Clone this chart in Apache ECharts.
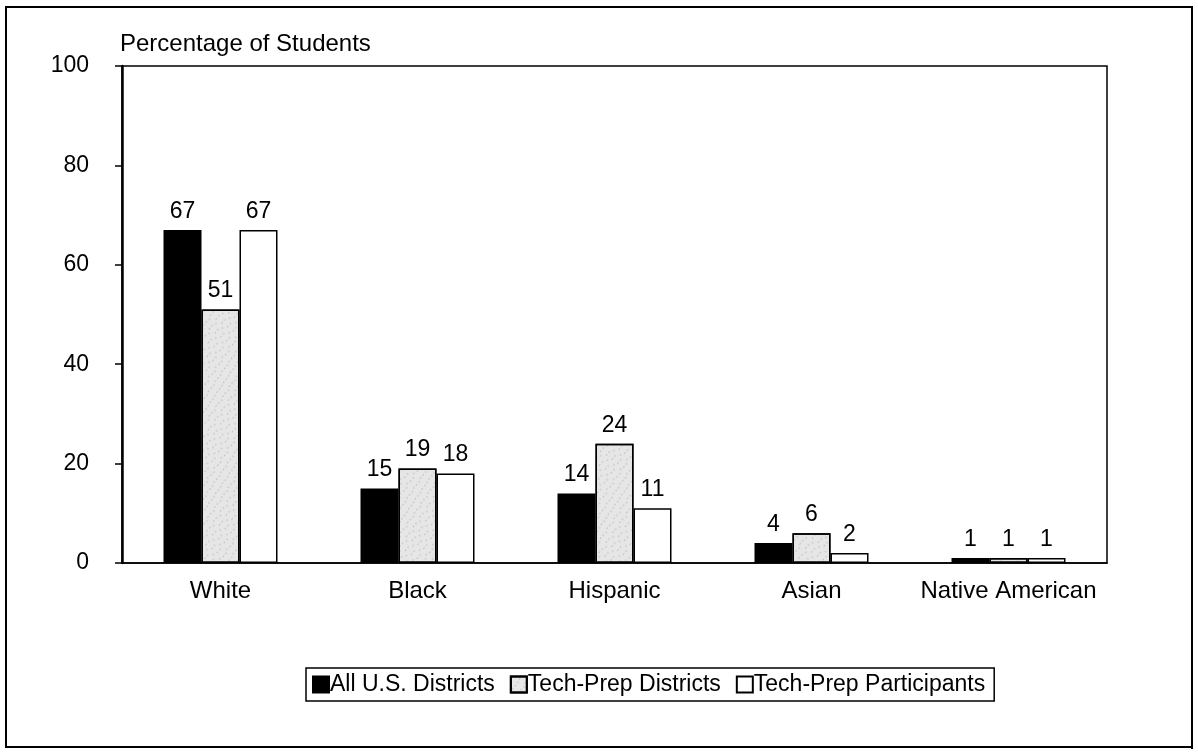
<!DOCTYPE html>
<html>
<head>
<meta charset="utf-8">
<script src="https://cdn.jsdelivr.net/npm/echarts@6/dist/echarts.min.js"></script>
<style>
html, body { margin: 0; padding: 0; background: #fff; }
#chart { width: 1198px; height: 753px; }
</style>
</head>
<body>
<div id="chart"></div>
<script>
var categories = ['White', 'Black', 'Hispanic', 'Asian', 'Native American'];
var allDistricts = [67, 15, 14, 4, 1];
var techPrepDistricts = [51, 19, 24, 6, 1];
var techPrepParticipants = [67, 18, 11, 2, 1];
var yTicks = [0, 20, 40, 60, 80, 100];

var FONT = 'Liberation Sans, Arial, sans-serif';
var FS = 23;

var myChart = echarts.init(document.getElementById('chart'));

var labelStyle = {
	show: true,
	position: 'top',
	distance: 7,
	color: '#000',
	fontSize: FS,
	fontFamily: FONT
};

var option = {
	animation: false,
	backgroundColor: '#fff',
	grid: { left: 122, right: 91, top: 66, bottom: 190, show: true, borderColor: '#000', borderWidth: 1.5 },
	graphic: [
		{ type: 'rect', shape: { x: 6, y: 7, width: 1186, height: 740 }, style: { fill: 'none', stroke: '#000', lineWidth: 2 }, silent: true },
		{ type: 'rect', shape: { x: 1191, y: 10, width: 2, height: 739 }, style: { fill: '#000' }, silent: true },
		{ type: 'rect', shape: { x: 9, y: 746, width: 1184, height: 2 }, style: { fill: '#000' }, silent: true },
		{ type: 'text', left: 120, top: 32, style: { text: 'Percentage of Students', fill: '#000', fontSize: 24, fontFamily: FONT } }
	],
	legend: {
		left: 306,
		top: 668,
		width: 760,
		icon: 'rect',
		itemWidth: 16,
		itemHeight: 16,
		itemGap: 15,
		padding: [5, 9, 5, 6],
		borderColor: '#000',
		borderWidth: 1.5,
		textStyle: { color: '#000', fontSize: FS, fontFamily: FONT, padding: [0, 0, 0, -4] },
		data: ['All U.S. Districts', 'Tech-Prep Districts', 'Tech-Prep Participants']
	},
	xAxis: {
		type: 'category',
		data: categories,
		axisLine: { lineStyle: { color: '#000', width: 1.5 } },
		axisTick: { show: false },
		axisLabel: { color: '#000', fontSize: 24, fontFamily: FONT, margin: 16, interval: 0 }
	},
	yAxis: {
		type: 'value',
		min: yTicks[0],
		max: yTicks[yTicks.length - 1],
		interval: 20,
		splitLine: { show: false },
		axisLine: { show: true, lineStyle: { color: '#000', width: 2.5 } },
		axisTick: { show: true, length: 7, lineStyle: { color: '#000', width: 1.5 } },
		axisLabel: { color: '#000', fontSize: FS, fontFamily: FONT, margin: 33 }
	},
	series: [
		{
			name: 'All U.S. Districts',
			type: 'bar',
			data: allDistricts,
			barWidth: 38,
			barGap: '0%',
			itemStyle: { color: '#000', borderColor: '#000', borderWidth: 1.5 },
			label: labelStyle
		},
		{
			name: 'Tech-Prep Districts',
			type: 'bar',
			data: techPrepDistricts,
			barWidth: 38,
			itemStyle: {
				color: '#e6e6e6',
				borderColor: '#000',
				borderWidth: 1.5,
				decal: {
					symbol: 'circle',
					symbolSize: 0.4,
					color: '#444',
					dashArrayX: [[3, 4], [2, 6], [4, 3]],
					dashArrayY: [2, 2],
					rotation: 0.6
				}
			},
			label: labelStyle
		},
		{
			name: 'Tech-Prep Participants',
			type: 'bar',
			data: techPrepParticipants,
			barWidth: 38,
			itemStyle: { color: '#fff', borderColor: '#000', borderWidth: 1.5 },
			label: labelStyle
		}
	]
};
myChart.setOption(option);
</script>
</body>
</html>
